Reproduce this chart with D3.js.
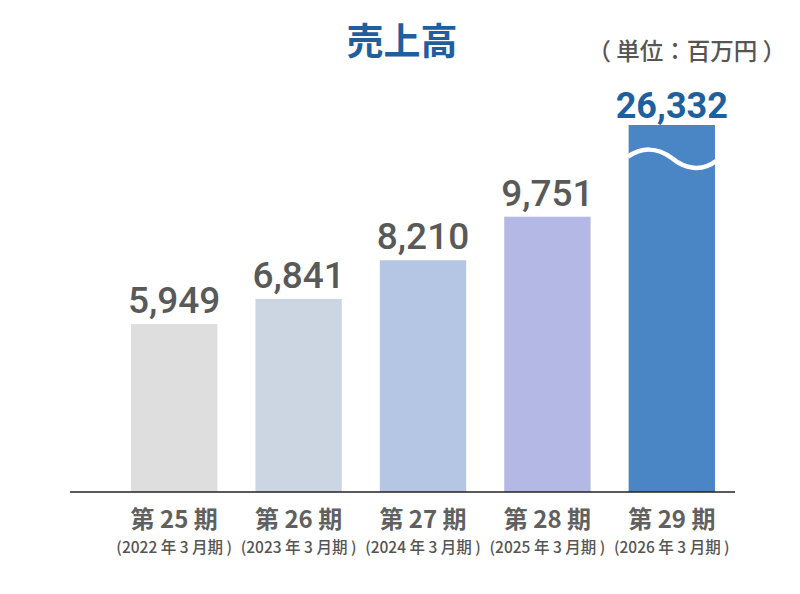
<!DOCTYPE html>
<html>
<head>
<meta charset="utf-8">
<script src="https://cdn.jsdelivr.net/npm/d3@7"></script>
<style>
	html, body {margin: 0; padding: 0; background: #fff;}
	svg {display: block;}
</style>
</head>
<body>
<div id="chart"></div>
<script>
(function(){
	'use strict';

	// data
	var periods = ['第 25 期', '第 26 期', '第 27 期', '第 28 期', '第 29 期'];
	var fiscalYears = ['(2022 年 3 月期 )', '(2023 年 3 月期 )', '(2024 年 3 月期 )', '(2025 年 3 月期 )', '(2026 年 3 月期 )'];
	var sales = [5949, 6841, 8210, 9751, 26332];
	var barColors = ['#dedede', '#ccd6e3', '#b4c6e4', '#b4b8e4', '#4a86c6'];
	var breakAt = 13000; // bars above this are drawn cut with a wave

	var W = 800, H = 594;
	var base = 492;
	var cjk = '"Noto Sans CJK JP", "Noto Sans", sans-serif';
	var num = 'Roboto, "Liberation Sans", sans-serif';

	var svg = d3.select('#chart').append('svg')
		.attr('width', W)
		.attr('height', H);

	var x = d3.scaleBand()
		.domain(periods)
		.range([112, 734])
		.paddingInner(0.306)
		.paddingOuter(0.153);

	var y = d3.scaleLinear()
		.domain([0, breakAt])
		.range([base, 125]);

	var rows = periods.map(function(p, i) {
		return {period: p, fy: fiscalYears[i], value: sales[i], color: barColors[i],
			broken: sales[i] > breakAt};});

	// title + unit
	svg.append('text')
		.attr('x', 402).attr('y', 55)
		.attr('text-anchor', 'middle')
		.attr('font-family', cjk).attr('font-weight', 700)
		.attr('font-size', 37).attr('fill', '#1f5f9e')
		.text('売上高');

	svg.append('text')
		.attr('x', 786).attr('y', 60)
		.attr('text-anchor', 'end')
		.attr('font-family', cjk).attr('font-weight', 500)
		.attr('font-size', 23.5).attr('fill', '#555')
		.text('（ 単位：百万円 ）');

	// bars
	var bar = svg.append('g').selectAll('g.bar')
		.data(rows).enter().append('g').attr('class', 'bar');

	bar.append('rect')
		.attr('x', function(d) {return x(d.period);})
		.attr('y', function(d) {return y(Math.min(d.value, breakAt));})
		.attr('width', x.bandwidth())
		.attr('height', function(d) {return base - y(Math.min(d.value, breakAt));})
		.attr('fill', function(d) {return d.color;});

	// wave break on the cut bar
	bar.filter(function(d) {return d.broken;}).each(function(d) {
		var x0 = x(d.period), bw = x.bandwidth(), top = y(breakAt);
		var p = d3.path();
		p.moveTo(x0 - 1, top + 32);
		p.bezierCurveTo(x0 + bw * 0.15, top + 22, x0 + bw * 0.33, top + 22, x0 + bw * 0.5, top + 33);
		p.bezierCurveTo(x0 + bw * 0.65, top + 44, x0 + bw * 0.85, top + 47, x0 + bw + 1, top + 36);
		d3.select(this).append('path')
			.attr('d', p.toString())
			.attr('fill', 'none')
			.attr('stroke', '#fff')
			.attr('stroke-width', 4.5);
	});

	// value labels
	bar.append('text')
		.attr('x', function(d) {return x(d.period) + x.bandwidth() / 2;})
		.attr('y', function(d) {return y(Math.min(d.value, breakAt)) - (d.broken ? 7 : 11);})
		.attr('text-anchor', 'middle')
		.attr('font-family', num)
		.attr('font-weight', function(d) {return d.broken ? 700 : 500;})
		.attr('font-size', function(d) {return d.broken ? 36 : 37;})
		.attr('fill', function(d) {return d.broken ? '#1f5f9e' : '#595959';})
		.text(function(d) {return d3.format(',')(d.value);});

	// baseline
	svg.append('line')
		.attr('x1', 70).attr('x2', 735)
		.attr('y1', base).attr('y2', base)
		.attr('stroke', '#222').attr('stroke-width', 1.5);

	// category labels
	var cat = svg.append('g').selectAll('g.cat')
		.data(rows).enter().append('g').attr('class', 'cat')
		.attr('transform', function(d) {
			return 'translate(' + (x(d.period) + x.bandwidth() / 2) + ',0)';});

	cat.append('text')
		.attr('y', 528)
		.attr('text-anchor', 'middle')
		.attr('font-family', cjk).attr('font-weight', 700)
		.attr('font-size', 24).attr('fill', '#606060')
		.text(function(d) {return d.period;});

	cat.append('text')
		.attr('y', 553)
		.attr('text-anchor', 'middle')
		.attr('font-family', cjk).attr('font-weight', 500)
		.attr('font-size', 15.5).attr('fill', '#555')
		.text(function(d) {return d.fy;});
})();
</script>
</body>
</html>
